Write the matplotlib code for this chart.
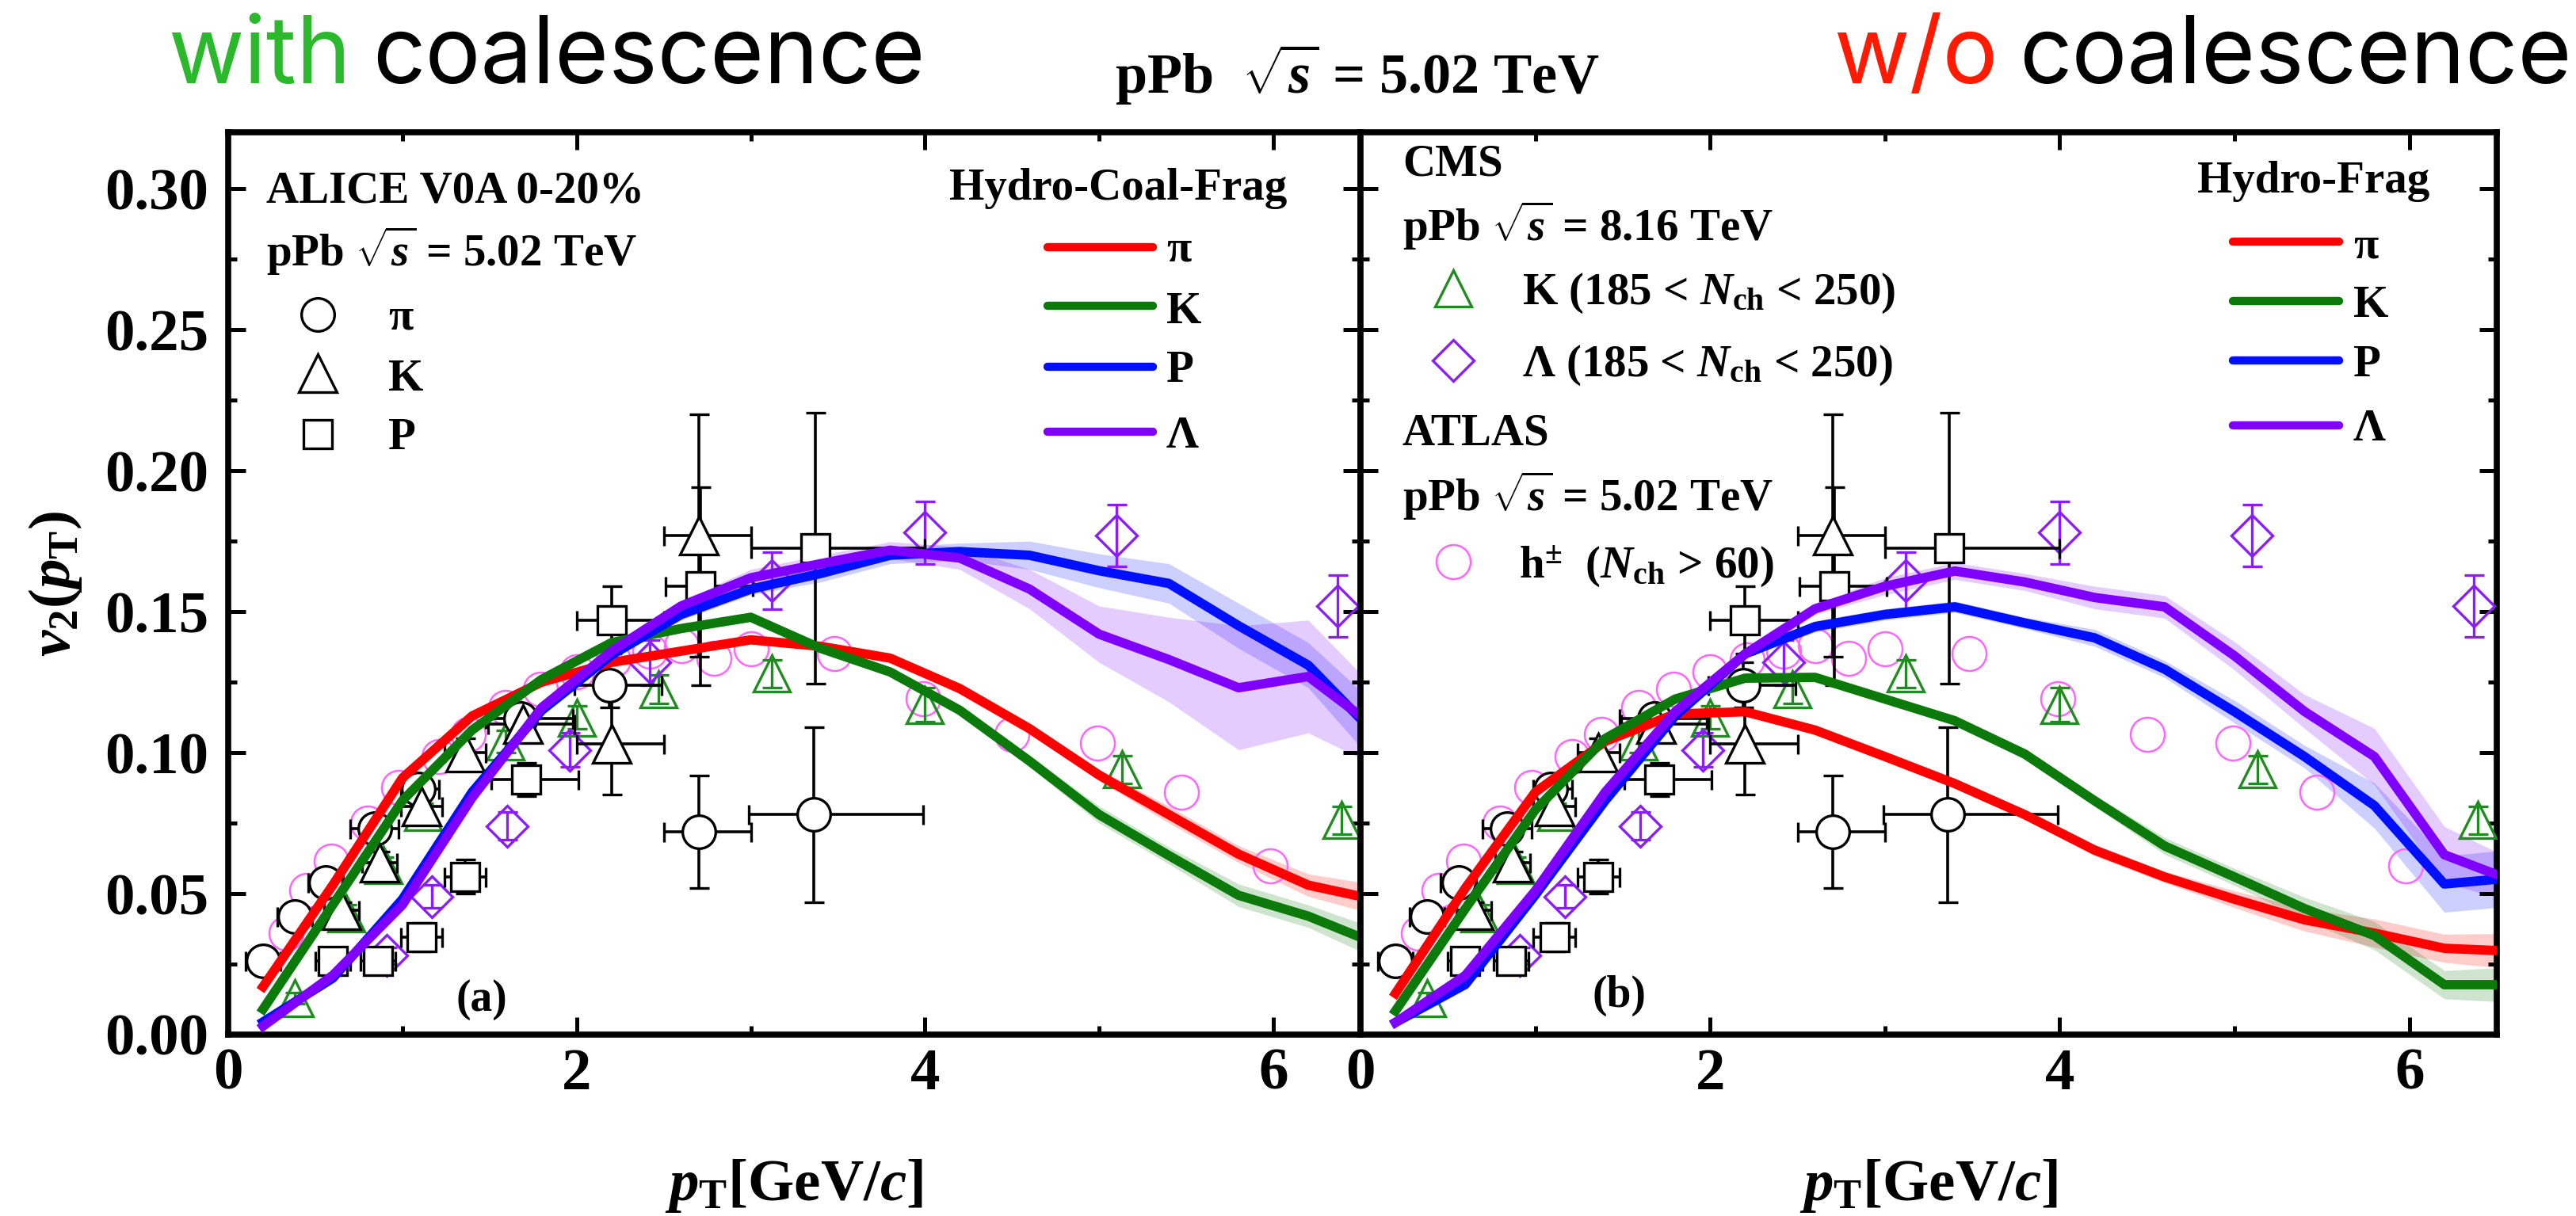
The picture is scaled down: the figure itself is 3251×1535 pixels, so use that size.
import numpy as np
import matplotlib
matplotlib.use("Agg")
import matplotlib.pyplot as plt
from matplotlib.lines import Line2D

# ---- hydro curves (same pT grid for all) ----
pt = np.array([0.2, 0.6, 1.0, 1.4, 1.8, 2.2, 2.6, 3.0, 3.4, 3.8, 4.2, 4.6, 5.0, 5.4, 5.8, 6.2, 6.5])

# (a) Hydro-Coal-Frag
coal_pi = [0.017, 0.053, 0.091, 0.113, 0.125, 0.132, 0.136, 0.140, 0.1377, 0.1335, 0.1227, 0.1085, 0.092, 0.078, 0.064, 0.053, 0.049]
coal_k = [0.009, 0.046, 0.083, 0.108, 0.126, 0.139, 0.144, 0.148, 0.137, 0.1286, 0.115, 0.097, 0.078, 0.0635, 0.0494, 0.042, 0.0345]
coal_p = [0.0045, 0.020, 0.048, 0.086, 0.115, 0.1346, 0.149, 0.158, 0.1635, 0.170, 0.1713, 0.170, 0.1645, 0.160, 0.145, 0.131, 0.112]
coal_l = [0.003, 0.021, 0.046, 0.084, 0.116, 0.136, 0.152, 0.162, 0.167, 0.1718, 0.169, 0.158, 0.142, 0.133, 0.123, 0.127, 0.113]
coal_pi_err = [0.001, 0.001, 0.001, 0.001, 0.001, 0.001, 0.001, 0.001, 0.001, 0.001, 0.002, 0.002, 0.002, 0.003, 0.003, 0.004, 0.005]
coal_k_err = [0.001, 0.001, 0.001, 0.001, 0.001, 0.001, 0.001, 0.001, 0.001, 0.001, 0.002, 0.002, 0.003, 0.003, 0.004, 0.004, 0.005]
coal_p_err = [0.001, 0.001, 0.001, 0.001, 0.001, 0.001, 0.002, 0.002, 0.003, 0.003, 0.003, 0.005, 0.006, 0.007, 0.008, 0.008, 0.010]
coal_l_err = [0.001, 0.001, 0.001, 0.001, 0.001, 0.002, 0.002, 0.003, 0.003, 0.003, 0.004, 0.007, 0.010, 0.015, 0.022, 0.020, 0.015]

# (b) Hydro-Frag
frag_pi = [0.0146, 0.052, 0.086, 0.104, 0.1137, 0.1145, 0.108, 0.0986, 0.089, 0.078, 0.0654, 0.0559, 0.048, 0.0407, 0.036, 0.0306, 0.0298]
frag_k = [0.0084, 0.0447, 0.0797, 0.105, 0.119, 0.1264, 0.1267, 0.119, 0.1113, 0.0995, 0.0829, 0.0669, 0.0559, 0.0447, 0.0351, 0.0177, 0.0177]
frag_p = [0.0043, 0.0178, 0.0495, 0.083, 0.113, 0.135, 0.1447, 0.149, 0.1517, 0.146, 0.1407, 0.1296, 0.1145, 0.0986, 0.0812, 0.0534, 0.0551]
frag_l = [0.0043, 0.021, 0.051, 0.086, 0.1145, 0.135, 0.151, 0.159, 0.1644, 0.1605, 0.155, 0.1517, 0.1343, 0.1146, 0.0986, 0.0638, 0.0567]
frag_pi_err = [0.001, 0.001, 0.001, 0.001, 0.001, 0.001, 0.001, 0.001, 0.001, 0.001, 0.002, 0.002, 0.003, 0.004, 0.005, 0.005, 0.006]
frag_k_err = [0.001, 0.001, 0.001, 0.001, 0.001, 0.001, 0.001, 0.001, 0.001, 0.002, 0.002, 0.003, 0.003, 0.004, 0.005, 0.005, 0.006]
frag_p_err = [0.001, 0.001, 0.001, 0.001, 0.001, 0.001, 0.002, 0.002, 0.002, 0.002, 0.003, 0.003, 0.004, 0.004, 0.008, 0.010, 0.010]
frag_l_err = [0.001, 0.001, 0.001, 0.001, 0.001, 0.002, 0.002, 0.003, 0.003, 0.003, 0.004, 0.004, 0.005, 0.006, 0.010, 0.010, 0.008]

# ---- ALICE V0A 0-20% (pPb 5.02 TeV) ----
alice_pi_x = [0.20, 0.38, 0.56, 0.84, 1.09, 1.68, 2.19, 2.70, 3.36]
alice_pi_y = [0.026, 0.042, 0.054, 0.073, 0.087, 0.112, 0.124, 0.072, 0.078]
alice_pi_ey = [0.003, 0.003, 0.003, 0.004, 0.004, 0.005, 0.008, 0.020, 0.031]
alice_pi_xlo = [0.1, 0.1, 0.1, 0.14, 0.1, 0.2, 0.2, 0.2, 0.37]
alice_pi_xhi = [0.1, 0.1, 0.1, 0.14, 0.12, 0.3, 0.3, 0.3, 0.63]

alice_k_x = [0.65, 0.87, 1.11, 1.36, 1.69, 2.20, 2.70]
alice_k_y = [0.044, 0.061, 0.081, 0.100, 0.110, 0.103, 0.177]
alice_k_ey = [0.003, 0.004, 0.004, 0.005, 0.006, 0.018, 0.043]
alice_k_xlo = [0.1, 0.1, 0.12, 0.12, 0.2, 0.2, 0.2]
alice_k_xhi = [0.1, 0.1, 0.12, 0.12, 0.3, 0.3, 0.3]

alice_p_x = [0.60, 0.86, 1.11, 1.36, 1.71, 2.20, 2.71, 3.37]
alice_p_y = [0.026, 0.026, 0.0345, 0.056, 0.0905, 0.147, 0.159, 0.1725]
alice_p_ey = [0.003, 0.004, 0.005, 0.006, 0.006, 0.012, 0.035, 0.048]
alice_p_xlo = [0.1, 0.1, 0.12, 0.12, 0.2, 0.2, 0.2, 0.37]
alice_p_xhi = [0.1, 0.1, 0.12, 0.12, 0.3, 0.3, 0.3, 0.63]

# ---- CMS pPb 8.16 TeV, 185 < Nch < 250 ----
cms_k_x = [0.38, 0.68, 0.89, 1.12, 1.59, 2.00, 2.47, 3.12, 4.00, 5.13, 6.39]
cms_k_y = [0.013, 0.043, 0.060, 0.079, 0.104, 0.1125, 0.1225, 0.128, 0.117, 0.094, 0.076]
cms_k_ey = [0.002, 0.003, 0.003, 0.003, 0.004, 0.004, 0.005, 0.005, 0.006, 0.005, 0.005]

cms_l_x = [0.91, 1.17, 1.60, 1.96, 2.42, 3.12, 4.00, 5.10, 6.37]
cms_l_y = [0.028, 0.049, 0.074, 0.101, 0.132, 0.161, 0.178, 0.177, 0.152]
cms_l_ey = [0.003, 0.004, 0.005, 0.006, 0.008, 0.010, 0.011, 0.011, 0.011]

# ---- ATLAS pPb 5.02 TeV, h+- Nch > 60 ----
atlas_x = [0.33, 0.45, 0.59, 0.80, 0.98, 1.21, 1.38, 1.59, 1.79, 2.00, 2.21, 2.42, 2.60, 2.79, 3.00, 3.48, 3.99, 4.50, 4.99, 5.47, 5.98]
atlas_y = [0.036, 0.051, 0.0615, 0.075, 0.0876, 0.0986, 0.1065, 0.116, 0.1225, 0.1287, 0.133, 0.136, 0.138, 0.1335, 0.1368, 0.135, 0.119, 0.1065, 0.1034, 0.086, 0.0598]

W, H = 3251, 1535
plt.rcParams['font.family'] = 'Liberation Serif'
plt.rcParams['font.weight'] = 'bold'
plt.rcParams['mathtext.fontset'] = 'custom'
plt.rcParams['mathtext.rm'] = 'Liberation Serif:bold'
plt.rcParams['mathtext.bf'] = 'Liberation Serif:bold'
plt.rcParams['mathtext.it'] = 'Liberation Serif:italic:bold'

cred, cgrn, cblu, cpur = '#ff0000', '#0b7a0b', '#0010ff', '#7f00ff'
mgrn, mpur, mpink = '#1e8c1e', '#8a1cff', '#ff66ff'

fig = plt.figure(figsize=(W/100, H/100), dpi=100)

def fx(X):
    return X/W

def fy(Y):
    return 1 - Y/H

axL = fig.add_axes([fx(288), fy(1306), fx(1717)-fx(288), fy(167)-fy(1306)])
axR = fig.add_axes([fx(1717), fy(1306), fx(3151)-fx(1717), fy(167)-fy(1306)])

def panel(ax, curves):
    ax.plot(atlas_x, atlas_y, 'o', ms=31, mfc='none', mec=mpink, mew=1.8, zorder=2)
    ax.errorbar(cms_k_x, cms_k_y, yerr=cms_k_ey, fmt='^', ms=33, mfc='none', mec=mgrn, mew=2.4,
                ecolor=mgrn, elinewidth=2.4, capsize=9, capthick=2.4, zorder=3)
    ax.errorbar(cms_l_x, cms_l_y, yerr=cms_l_ey, fmt='D', ms=26, mfc='none', mec=mpur, mew=2.4,
                ecolor=mpur, elinewidth=2.4, capsize=9, capthick=2.4, zorder=3)
    for xs, ys, ey, xl, xh, m, ms in [(alice_pi_x, alice_pi_y, alice_pi_ey, alice_pi_xlo, alice_pi_xhi, 'o', 30),
                                      (alice_k_x, alice_k_y, alice_k_ey, alice_k_xlo, alice_k_xhi, '^', 34),
                                      (alice_p_x, alice_p_y, alice_p_ey, alice_p_xlo, alice_p_xhi, 's', 26)]:
        ax.errorbar(xs, ys, xerr=[xl, xh], yerr=ey, fmt=m, ms=ms, mfc='white', mec='k', mew=2.4,
                    ecolor='k', elinewidth=2.6, capsize=9, capthick=2.6, zorder=4)
    for y, e, c in curves:
        y = np.array(y)
        e = np.array(e)
        ax.fill_between(pt, y-e, y+e, color=c, alpha=0.2, lw=0, zorder=1)
        ax.plot(pt, y, color=c, lw=8.5, zorder=5)
    ax.set_xlim(0, 6.5)
    ax.set_ylim(0, 0.32)
    ax.set_xticks([0, 2, 4, 6])
    ax.set_xticks([1, 3, 5], minor=True)
    ax.set_yticks(np.arange(0, 0.301, 0.05))
    ax.set_yticks(np.arange(0.025, 0.32, 0.05), minor=True)
    ax.tick_params(which='both', direction='in', top=True, right=True, left=True, bottom=True, width=3.6)
    ax.tick_params(which='major', length=16, labelsize=54, pad=12)
    ax.tick_params(which='minor', length=8)
    ax.tick_params(axis='y', which='major', pad=18)
    for s in ax.spines.values():
        s.set_linewidth(5.5)

panel(axL, [(coal_pi, coal_pi_err, cred), (coal_k, coal_k_err, cgrn), (coal_p, coal_p_err, cblu), (coal_l, coal_l_err, cpur)])
panel(axR, [(frag_pi, frag_pi_err, cred), (frag_k, frag_k_err, cgrn), (frag_p, frag_p_err, cblu), (frag_l, frag_l_err, cpur)])
axL.yaxis.set_major_formatter(plt.FormatStrFormatter('%.2f'))
axR.tick_params(axis='y', labelleft=False)

# axis labels
fig.text(fx(70), fy(737), r"$v_2(p_{\rm T})$", rotation=90, ha='center', va='center', fontsize=54)
fig.text(fx(1002), fy(1515), r"$p_{\rm T}$[GeV/$c$]", ha='center', va='baseline', fontsize=54)
fig.text(fx(2434), fy(1515), r"$p_{\rm T}$[GeV/$c$]", ha='center', va='baseline', fontsize=54)
fig.text(fx(608), fy(1262), "(a)", ha='center', va='center', fontsize=40)
fig.text(fx(2043), fy(1257), "(b)", ha='center', va='center', fontsize=40)

# titles
fig.text(fx(1713), fy(118), r"pPb  $\sqrt{s}$ = 5.02 TeV", ha='center', va='baseline', fontsize=52)
top = dict(family='Inter', weight='normal', fontsize=84, va='baseline')
fig.text(fx(212), fy(105), "with", color='#2cb82c', **top)
fig.text(fx(470), fy(105), "coalescence", color='k', **top)
fig.text(fx(2314), fy(105), "w/o", color='#ff1a00', **top)
fig.text(fx(2548), fy(105), "coalescence", color='k', **top)

def mk(X, Y, **kw):
    fig.add_artist(Line2D([fx(X)], [fy(Y)], transform=fig.transFigure, ls='none', **kw))

def seg(X0, X1, Y, c):
    fig.add_artist(Line2D([fx(X0), fx(X1)], [fy(Y), fy(Y)], transform=fig.transFigure, color=c, lw=7.5,
                          solid_capstyle='round'))

lsz = 41
# left legend
fig.text(fx(336), fy(255), "ALICE V0A 0-20%", fontsize=lsz, va='baseline')
fig.text(fx(336), fy(336), r"pPb $\sqrt{s}$ = 5.02 TeV", fontsize=lsz, va='baseline')
mk(401, 397, marker='o', ms=30, mfc='white', mec='k', mew=2.4)
mk(401, 471, marker='^', ms=34, mfc='white', mec='k', mew=2.4)
mk(401, 548, marker='s', ms=26, mfc='white', mec='k', mew=2.4)
for lab, yb in [("π", 415), ("K", 493), ("P", 567)]:
    fig.text(fx(490), fy(yb), lab, fontsize=lsz, va='baseline')
fig.text(fx(1198), fy(252), "Hydro-Coal-Frag", fontsize=lsz, va='baseline')
for c, yl, lab, yb in [(cred, 312, "π", 330), (cgrn, 386, "K", 408), (cblu, 463, "P", 482), (cpur, 545, "Λ", 565)]:
    seg(1322, 1455, yl, c)
    fig.text(fx(1472), fy(yb), lab, fontsize=lsz, va='baseline')

# right legend
fig.text(fx(1770), fy(221), "CMS", fontsize=lsz, va='baseline')
fig.text(fx(1770), fy(304), r"pPb $\sqrt{s}$ = 8.16 TeV", fontsize=lsz, va='baseline')
mk(1834, 364, marker='^', ms=33, mfc='none', mec=mgrn, mew=2.4)
fig.text(fx(1921), fy(384), r"K (185 < $N_{\rm ch}$ < 250)", fontsize=lsz, va='baseline')
mk(1834, 455, marker='D', ms=26, mfc='none', mec=mpur, mew=2.4)
fig.text(fx(1921), fy(475), r"Λ (185 < $N_{\rm ch}$ < 250)", fontsize=lsz, va='baseline')
fig.text(fx(1770), fy(562), "ATLAS", fontsize=lsz, va='baseline')
fig.text(fx(1770), fy(645), r"pPb $\sqrt{s}$ = 5.02 TeV", fontsize=lsz, va='baseline')
mk(1834, 709, marker='o', ms=31, mfc='none', mec=mpink, mew=1.8)
fig.text(fx(1917), fy(729), r"h$^{\pm}$  ($N_{\rm ch}$ > 60)", fontsize=lsz, va='baseline')
fig.text(fx(2773), fy(243), "Hydro-Frag", fontsize=lsz, va='baseline')
for c, yl, lab, yb in [(cred, 305, "π", 326), (cgrn, 380, "K", 400), (cblu, 455, "P", 475), (cpur, 537, "Λ", 556)]:
    seg(2818, 2952, yl, c)
    fig.text(fx(2970), fy(yb), lab, fontsize=lsz, va='baseline')

fig.savefig("out.png", dpi=100)
